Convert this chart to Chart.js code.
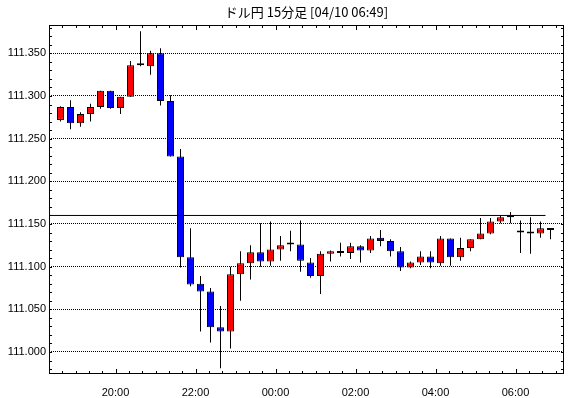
<!DOCTYPE html>
<html>
<head>
<meta charset="utf-8">
<title>ドル円 15分足</title>
<script src="https://cdn.jsdelivr.net/npm/chart.js@4/dist/chart.umd.min.js"></script>
<style>
    body { margin: 0; background: #fff; }
</style>
</head>
<body>
<canvas id="chart" width="570" height="398"></canvas>
<script>
// ドル円 15分足 (18:30 から 15分ごと)
const chartTitle = 'ドル円 15分足 [04/10 06:49]';
const startTime = '18:30';
const barMinutes = 15;

const opens = [
    111.272, 111.287, 111.268, 111.279, 111.287, 111.306, 111.286, 111.299, 111.336, 111.335,
    111.350, 111.294, 111.229, 111.111, 111.080, 111.071, 111.029, 111.024, 111.091, 111.104,
    111.117, 111.106, 111.120, 111.126, 111.126, 111.105, 111.089, 111.115, 111.118, 111.116,
    111.124, 111.119, 111.134, 111.130, 111.118, 111.099, 111.105, 111.112, 111.104, 111.133,
    111.111, 111.122, 111.132, 111.139, 111.153, 111.158, 111.140, 111.139, 111.139, 111.145
];
const highs = [
    111.288, 111.295, 111.281, 111.291, 111.306, 111.306, 111.299, 111.341, 111.376, 111.353,
    111.356, 111.301, 111.238, 111.145, 111.089, 111.075, 111.054, 111.100, 111.118, 111.125,
    111.151, 111.153, 111.136, 111.142, 111.154, 111.110, 111.118, 111.119, 111.128, 111.128,
    111.125, 111.136, 111.143, 111.132, 111.123, 111.106, 111.118, 111.118, 111.136, 111.133,
    111.134, 111.132, 111.157, 111.157, 111.160, 111.164, 111.154, 111.158, 111.153, 111.145
];
const lows = [
    111.270, 111.261, 111.264, 111.270, 111.285, 111.285, 111.279, 111.299, 111.335, 111.325,
    111.289, 111.229, 111.099, 111.077, 111.024, 111.011, 110.981, 111.004, 111.060, 111.085,
    111.100, 111.101, 111.107, 111.118, 111.094, 111.087, 111.068, 111.106, 111.112, 111.109,
    111.105, 111.116, 111.124, 111.112, 111.095, 111.098, 111.102, 111.098, 111.101, 111.101,
    111.107, 111.118, 111.132, 111.138, 111.151, 111.151, 111.116, 111.115, 111.134, 111.132
];
const closes = [
    111.287, 111.268, 111.279, 111.287, 111.306, 111.286, 111.299, 111.336, 111.336, 111.350,
    111.294, 111.229, 111.111, 111.079, 111.071, 111.029, 111.024, 111.091, 111.104, 111.117,
    111.106, 111.120, 111.125, 111.126, 111.107, 111.089, 111.115, 111.118, 111.116, 111.124,
    111.119, 111.133, 111.130, 111.118, 111.099, 111.105, 111.112, 111.105, 111.133, 111.111,
    111.122, 111.132, 111.139, 111.153, 111.158, 111.160, 111.140, 111.139, 111.145, 111.143
];

const priceTicks = [111.000, 111.050, 111.100, 111.150, 111.200, 111.250, 111.300, 111.350];
const hourLabels = ['20:00', '22:00', '00:00', '02:00', '04:00', '06:00'];
const refLevel = 111.160;

// 時刻 → 開始からの分
function minutesFrom(label) {
    let [h, m] = label.split(':').map(Number);
    let [h0, m0] = startTime.split(':').map(Number);
    return ((h * 60 + m) - (h0 * 60 + m0) + 1440) % 1440;
}

let bodies = [], wicks = [], bodyColors = [];
for (let i = 0; i < opens.length; i++) {
    let x = i * barMinutes + barMinutes / 2;
    bodies.push({x: x, y: [opens[i], closes[i]]});
    wicks.push({x: x, y: [lows[i], highs[i]]});
    if (closes[i] > opens[i])
        bodyColors.push('#ff0000');
    else if (closes[i] < opens[i])
        bodyColors.push('#0000ff');
    else
        bodyColors.push('#000000');
}
let lastStart = (opens.length - 1) * barMinutes;

const xMin = -9.75, xMax = 762.75;
const yMin = 110.9742, yMax = 111.3832;

// 枠と内向きの目盛り、タイトル
const framePlugin = {
    id: 'frame',
    afterDraw(chart) {
        const ctx = chart.ctx;
        const a = chart.chartArea;
        const x = chart.scales.x, y = chart.scales.y;
        ctx.save();
        ctx.strokeStyle = '#000';
        ctx.lineWidth = 1;
        ctx.strokeRect(a.left + 0.5, a.top + 0.5, a.right - a.left - 1, a.bottom - a.top - 1);

        ctx.beginPath();
        let first = minutesFrom(hourLabels[0]);
        let m = first;
        while (m - 20 > xMin) m -= 20;
        for (; m < xMax; m += 20) {
            let px = Math.round(x.getPixelForValue(m)) + 0.5;
            let len = ((m - first) % 120 === 0) ? 5 : 3;
            ctx.moveTo(px, a.bottom);
            ctx.lineTo(px, a.bottom - len);
            ctx.moveTo(px, a.top);
            ctx.lineTo(px, a.top + len);
        }
        for (let v = 110.98; v < yMax; v += 0.01) {
            let py = Math.round(y.getPixelForValue(v)) + 0.5;
            ctx.moveTo(a.left, py);
            ctx.lineTo(a.left + 3, py);
            ctx.moveTo(a.right, py);
            ctx.lineTo(a.right - 3, py);
        }
        ctx.stroke();

        ctx.fillStyle = '#000';
        ctx.font = '13px "Noto Sans CJK JP"';
        ctx.textAlign = 'center';
        ctx.textBaseline = 'middle';
        ctx.fillText(chartTitle, (a.left + a.right) / 2, 12);
        ctx.restore();
    }
};

const data = {
    datasets: [{
            type: 'line',
            data: [{x: xMin, y: refLevel}, {x: lastStart, y: refLevel}],
            borderColor: '#000',
            borderWidth: 1,
            pointRadius: 0,
            order: 0
        }, {
            data: bodies,
            backgroundColor: bodyColors,
            borderColor: '#000',
            borderWidth: 1,
            borderSkipped: false,
            barThickness: 7,
            minBarLength: 2,
            inflateAmount: 0,
            grouped: false,
            order: 1
        }, {
            data: wicks,
            backgroundColor: '#000',
            borderWidth: 0,
            barThickness: 1,
            inflateAmount: 0,
            grouped: false,
            order: 2
        }]
};

const config = {
    type: 'bar',
    data: data,
    options: {
        responsive: false,
        animation: false,
        devicePixelRatio: 1,
        layout: {padding: {top: 25, right: 6, left: 0, bottom: 0}},
        plugins: {legend: {display: false}, tooltip: {enabled: false}, title: {display: false}},
        scales: {
            x: {
                type: 'linear',
                min: xMin,
                max: xMax,
                offset: false,
                grid: {display: false, offset: false},
                border: {display: false},
                afterBuildTicks: function(scale) {
                    scale.ticks = hourLabels.map(l => ({value: minutesFrom(l)}));
                },
                afterFit: function(scale) { scale.height = 24; },
                ticks: {
                    maxRotation: 0,
                    autoSkip: false,
                    padding: 4,
                    color: '#000',
                    font: {family: '"Liberation Sans"', size: 11},
                    callback: function(v) {
                        let i = hourLabels.findIndex(l => minutesFrom(l) === v);
                        return i >= 0 ? hourLabels[i] : '';
                    }
                }
            },
            y: {
                min: yMin,
                max: yMax,
                grid: {color: '#000', lineWidth: 1, drawTicks: false},
                border: {display: false, dash: [1, 1]},
                afterBuildTicks: function(scale) {
                    scale.ticks = priceTicks.map(v => ({value: v}));
                },
                afterFit: function(scale) { scale.width = 49; },
                ticks: {
                    padding: 3,
                    color: '#000',
                    font: {family: '"Liberation Sans"', size: 11},
                    callback: function(v) { return v.toFixed(3); }
                }
            }
        }
    },
    plugins: [framePlugin]
};

let context = document.getElementById('chart').getContext('2d');
new Chart(context, config);
</script>
</body>
</html>
